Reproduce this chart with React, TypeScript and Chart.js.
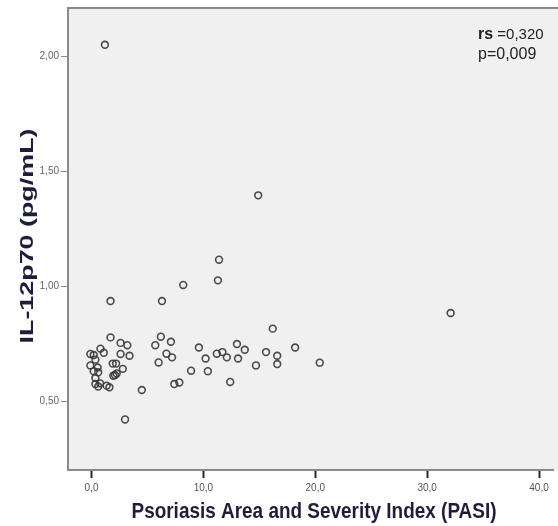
import React, { useEffect, useRef } from "react";
import { Chart, registerables } from "chart.js";

Chart.register(...registerables);

const pasi = [
  1.2, 14.9, 11.4, 11.3, 8.2, 6.3, 1.7, 32.1, 16.2, 7.1,
  7.2, 9.6, 10.2, 11.2, 11.7, 12.1, 13.0, 13.7, 13.1, 15.6,
  16.6, 16.6, 14.7, 18.2, 20.4, 8.9, 10.4, 12.4, 7.4, 7.85,
  6.2, 5.7, 6.7, 6.0, 3.2, 3.4, 4.5, 3.0, 1.7, 2.6,
  2.6, 0.8, 1.1, -0.1, 0.2, 0.35, -0.1, 0.55, 0.2, 0.6,
  0.35, 0.77, 0.35, 0.6, 1.35, 1.6, 1.9, 2.2, 2.8, 2.25,
  2.1, 1.95,
];
const il12 = [
  2.05, 1.395, 1.115, 1.025, 1.005, 0.935, 0.935, 0.883, 0.815, 0.758,
  0.69, 0.733, 0.685, 0.706, 0.713, 0.69, 0.748, 0.723, 0.685, 0.713,
  0.697, 0.661, 0.655, 0.733, 0.667, 0.632, 0.63, 0.583, 0.574, 0.581,
  0.78, 0.743, 0.706, 0.668, 0.743, 0.697, 0.548, 0.42, 0.777, 0.753,
  0.705, 0.728, 0.71, 0.705, 0.70, 0.68, 0.655, 0.646, 0.63, 0.625,
  0.60, 0.577, 0.574, 0.563, 0.567, 0.56, 0.663, 0.663, 0.64, 0.62,
  0.613, 0.61,
];
const xTickValues = [0, 10, 20, 30, 40];
const yTickValues = [0.5, 1.0, 1.5, 2.0];
const xTitle = "Psoriasis Area and Severity Index (PASI)";
const yTitle = "IL-12p70 (pg/mL)";
const statLabel = "rs";
const statLines = [" =0,320", "p=0,009"];

const FONT = '"Liberation Sans", Arial, sans-serif';

export default function App() {
  const ref = useRef<HTMLCanvasElement>(null);

  useEffect(() => {
    const canvas = ref.current;
    if (!canvas) return;

    const decor = {
      id: "decor",
      beforeDraw(chart: any) {
        const { ctx, chartArea } = chart;
        ctx.save();
        ctx.fillStyle = "#f0f0f0";
        ctx.fillRect(chartArea.left, chartArea.top, chart.width - chartArea.left, chartArea.bottom - chartArea.top);
        ctx.restore();
      },
      afterDraw(chart: any) {
        const { ctx, chartArea } = chart;
        ctx.save();
        // top frame line
        ctx.strokeStyle = "#8a8a8a";
        ctx.lineWidth = 2;
        ctx.beginPath();
        ctx.moveTo(chartArea.left - 1, chartArea.top);
        ctx.lineTo(chart.width, chartArea.top);
        ctx.stroke();

        // y title
        ctx.fillStyle = "#1e1e3c";
        ctx.font = `bold 18px ${FONT}`;
        ctx.textAlign = "center";
        ctx.textBaseline = "middle";
        const yw = ctx.measureText(yTitle).width;
        ctx.save();
        ctx.translate(28, (chartArea.top + chartArea.bottom) / 2 - 3);
        ctx.rotate(-Math.PI / 2);
        ctx.scale(215 / yw, 1);
        ctx.fillText(yTitle, 0, 0);
        ctx.restore();

        // x title
        ctx.save();
        ctx.font = `bold 19px ${FONT}`;
        const xw = ctx.measureText(xTitle).width;
        ctx.translate((chartArea.left + chart.width) / 2 + 1, 512);
        ctx.scale(365 / xw, 1.12);
        ctx.fillText(xTitle, 0, 0);
        ctx.restore();

        // stats
        ctx.textAlign = "left";
        ctx.fillStyle = "#222";
        ctx.font = `bold 16px ${FONT}`;
        const rw = ctx.measureText(statLabel).width;
        ctx.fillText(statLabel, 478, 35);
        ctx.font = `15px ${FONT}`;
        ctx.fillText(statLines[0], 478 + rw, 35);
        ctx.font = `16px ${FONT}`;
        ctx.fillText(statLines[1], 478, 55);
        ctx.restore();
      },
    };

    const points = pasi.map((x, i) => ({ x, y: il12[i] }));

    const chart = new Chart(canvas, {
      type: "scatter",
      data: {
        datasets: [
          {
            data: points,
            pointRadius: 3.4,
            pointHoverRadius: 3.4,
            pointBorderWidth: 1.6,
            pointBorderColor: "rgba(55,55,55,0.9)",
            pointBackgroundColor: "rgba(0,0,0,0)",
          },
        ],
      },
      options: {
        animation: false,
        responsive: false,
        maintainAspectRatio: false,
        devicePixelRatio: 1,
        layout: { padding: { top: 8, right: 0, left: 0, bottom: 0 } },
        plugins: { legend: { display: false }, tooltip: { enabled: false } },
        scales: {
          x: {
            type: "linear",
            min: -2.1,
            max: 41.25,
            afterBuildTicks: (axis: any) => {
              axis.ticks = xTickValues.map((v) => ({ value: v }));
            },
            afterFit: (axis: any) => {
              axis.height = 56;
            },
            ticks: {
              font: { size: 10, family: FONT },
              color: "#555",
              padding: 4,
              maxRotation: 0,
              callback: (v: any) => Number(v).toFixed(1).replace(".", ","),
            },
            grid: {
              drawOnChartArea: false,
              drawTicks: true,
              tickLength: 8,
              tickColor: "#2a2a2a",
              tickWidth: 2,
            },
            border: { display: true, color: "#8a8a8a", width: 2 },
          },
          y: {
            type: "linear",
            min: 0.2,
            max: 2.21,
            afterBuildTicks: (axis: any) => {
              axis.ticks = yTickValues.map((v) => ({ value: v }));
            },
            afterFit: (axis: any) => {
              axis.width = 68;
            },
            ticks: {
              font: { size: 10, family: FONT },
              color: "#666",
              padding: 2,
              callback: (v: any) => Number(v).toFixed(2).replace(".", ","),
            },
            grid: {
              drawOnChartArea: false,
              drawTicks: true,
              tickLength: 7,
              tickColor: "#7f8c99",
              tickWidth: 1,
            },
            border: { display: true, color: "#8a8a8a", width: 2 },
          },
        },
      },
      plugins: [decor],
    });

    return () => chart.destroy();
  }, []);

  return (
    <div style={{ position: "fixed", left: 0, top: 0, width: 558, height: 526, background: "#fff" }}>
      <canvas ref={ref} width={558} height={526} style={{ display: "block", width: 558, height: 526 }} />
    </div>
  );
}
